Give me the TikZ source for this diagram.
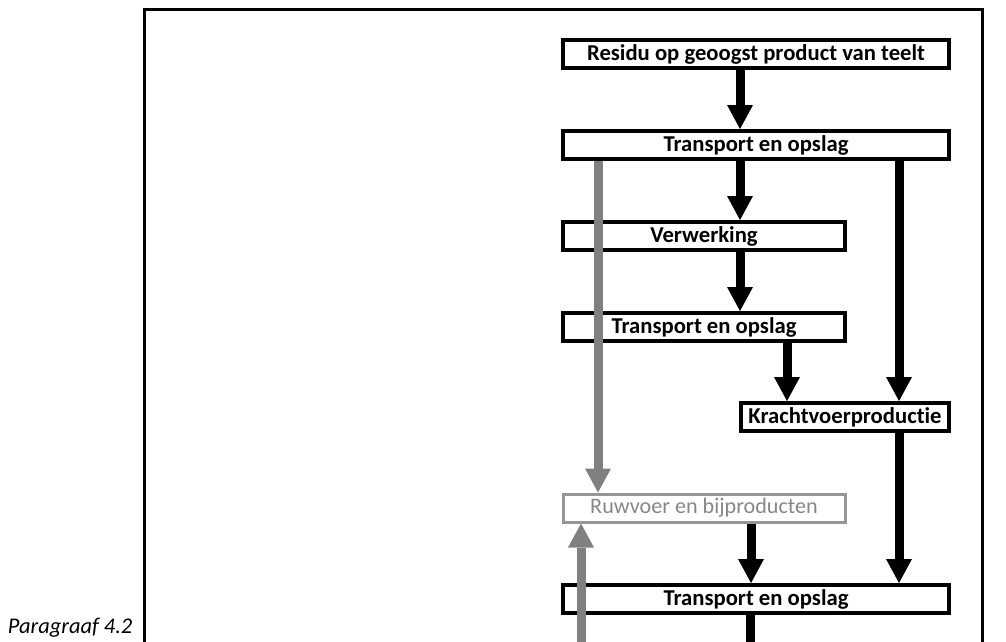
\documentclass[tikz,border=0pt]{standalone}
\usepackage{fontspec}
\setmainfont{Carlito}[Ligatures=NoCommon]
\usetikzlibrary{arrows.meta}
\definecolor{flowgray}{RGB}{128,128,128}
\definecolor{boxgray}{RGB}{150,150,150}
\definecolor{textgray}{RGB}{135,135,135}

\begin{document}
\begin{tikzpicture}[x=0.75pt, y=-0.75pt,
    stage/.style={draw, line width=3pt, minimum height=21pt, inner sep=0pt,
      font=\fontsize{17}{20}\selectfont\bfseries},
    sidestage/.style={stage, draw=boxgray, line width=2.25pt, text=textgray,
      font=\fontsize{16.6}{20}\selectfont},
    flow/.style={line width=6.75pt, -{Triangle[width=19.5pt, length=18pt, line width=0pt]}},
    grayflow/.style={flow, flowgray}]
    \useasboundingbox (0,0) rectangle (1006,642);
    \clip (0,0) rectangle (1006,642);
    %frame
    \draw[line width=2.25pt] (144,660) -- (144,10) -- (982,10) -- (982,660);
    \node[anchor=base east, font=\fontsize{16.8}{20}\selectfont\itshape] (para) at (137,633) {Paragraaf 4.2};
    %nodes
    \node[stage, minimum width=289.5pt] at (756,54) (residu) {Residu op geoogst product van teelt};
    \node[stage, minimum width=289.5pt] at (756,145) (transport1) {Transport en opslag};
    \node[stage, minimum width=211.5pt] at (704,236) (verwerking) {Verwerking};
    \node[stage, minimum width=211.5pt] at (704,327) (transport2) {Transport en opslag};
    \node[stage, minimum width=156pt] at (845,417) (kracht) {Krachtvoerproductie};
    \node[sidestage, minimum width=211.5pt] at (704,508) (ruwvoer) {Ruwvoer en bijproducten};
    \node[stage, minimum width=289.5pt] at (756,599) (transport3) {Transport en opslag};
    %arrow columns
    \coordinate (colA) at (740,0);
    \coordinate (colG) at (598,0);
    \coordinate (colR) at (899,0);
    \coordinate (colK) at (787,0);
    \coordinate (colU) at (751,0);
    \coordinate (bottomL) at (581,660);
    \coordinate (bottomR) at (750,660);
    %arrows
    \draw[flow] (residu.south -| colA) -- (transport1.north -| colA);
    \draw[flow] (transport1.south -| colA) -- (verwerking.north -| colA);
    \draw[flow] (verwerking.south -| colA) -- (transport2.north -| colA);
    \draw[flow] (transport2.south -| colK) -- (kracht.north -| colK);
    \draw[flow] (transport1.south -| colR) -- (kracht.north -| colR);
    \draw[flow] (kracht.south -| colR) -- (transport3.north -| colR);
    \draw[flow] (ruwvoer.south -| colU) -- (transport3.north -| colU);
    \draw[line width=6.75pt] (transport3.south -| bottomR) -- (bottomR);
    \draw[grayflow] (transport1.south -| colG) -- (ruwvoer.north -| colG);
    \draw[grayflow] (bottomL) -- (ruwvoer.south -| bottomL);
\end{tikzpicture}
\end{document}
